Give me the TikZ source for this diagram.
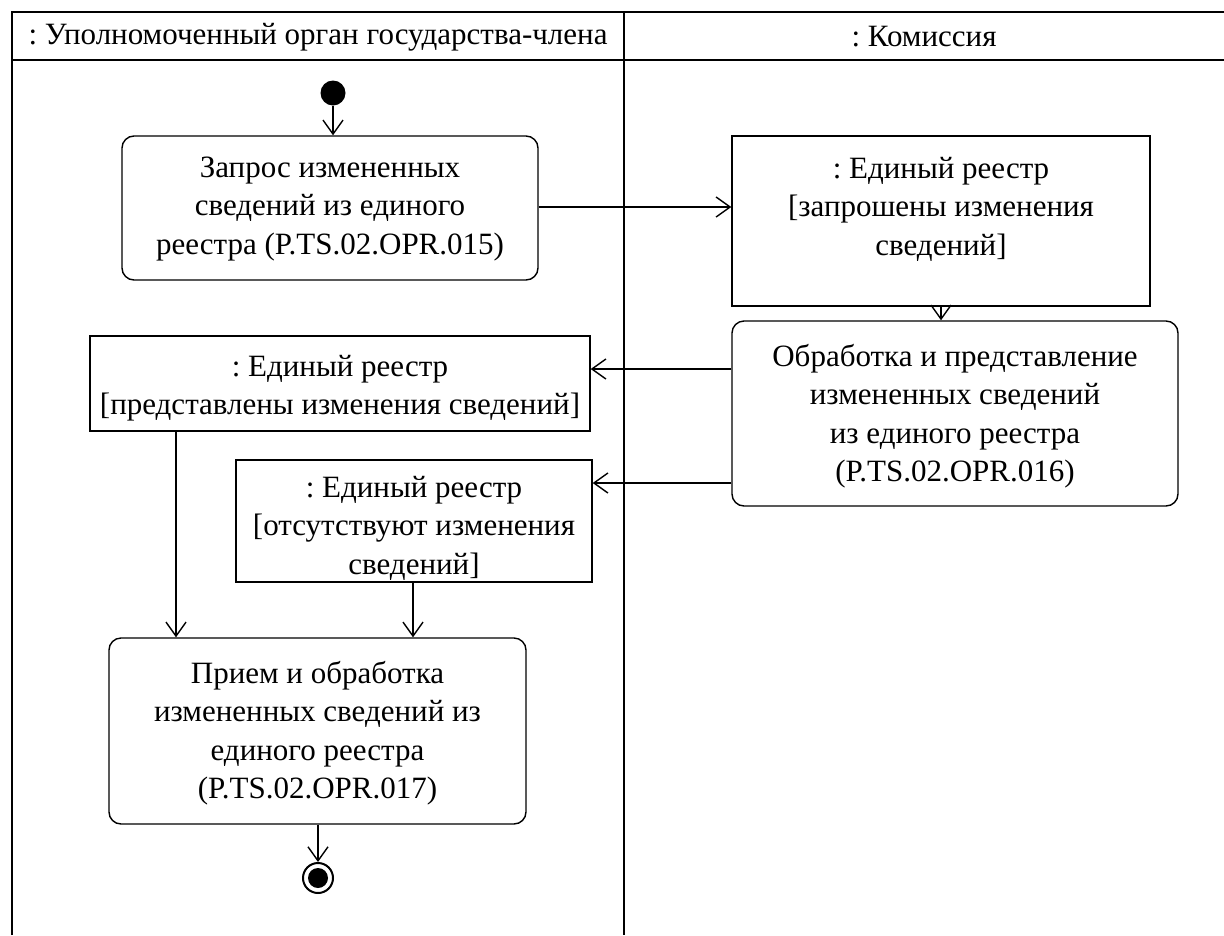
\documentclass[tikz,border=0pt]{standalone}
\usepackage{fontspec}
\setmainfont{Liberation Serif}
\usetikzlibrary{arrows.meta}
\frenchspacing
\begin{document}
\begin{tikzpicture}[x=1pt,y=-1pt,
  frame/.style={line width=2pt},
  actbox/.style={draw,line width=1.4pt,rounded corners=12pt,inner sep=0pt},
  objbox/.style={draw,line width=1.4pt,inner sep=0pt},
  txt/.style={align=center,font=\fontsize{31}{38.5}\selectfont,inner sep=0pt},
  flow/.style={line width=1.4pt,-{Straight Barb[length=14pt,width=20pt,line width=1.4pt]}}
]
\useasboundingbox (0,0) rectangle (1224,935);
% frame
\draw[frame] (12,935) -- (12,12) -- (1224,12);
\draw[frame] (12,60) -- (1224,60);
\draw[frame] (624,12) -- (624,935);
\node[txt] (h1) at (318,37) {: Уполномоченный орган государства-члена};
\node[txt] (h2) at (924,37) {: Комиссия};
% start
\node[circle,fill=black,inner sep=0pt,minimum size=25pt] (start) at (333,93) {};
% boxes
\node[actbox,minimum width=416pt,minimum height=144pt] (b1) at (330,208) {};
\node[txt] at (330,209) {Запрос измененных\\сведений из единого\\реестра (P.TS.02.OPR.015)};
\node[objbox,minimum width=418pt,minimum height=170pt] (b2) at (941,221) {};
\node[txt] at (941,209) {: Единый реестр\\{[}запрошены изменения\\сведений{]}};
\node[actbox,minimum width=446pt,minimum height=185pt] (b3) at (955,413.5) {};
\node[txt] at (955,416) {Обработка и представление\\измененных сведений\\из единого реестра\\(P.TS.02.OPR.016)};
\node[objbox,minimum width=500pt,minimum height=95pt] (b4) at (340,383.5) {};
\node[txt] at (340,388) {: Единый реестр\\{[}представлены изменения сведений{]}};
\node[objbox,minimum width=356pt,minimum height=122pt] (b5) at (414,521) {};
\node[txt] at (414,528) {: Единый реестр\\{[}отсутствуют изменения\\сведений{]}};
\node[actbox,minimum width=417pt,minimum height=186pt] (b6) at (317.5,731) {};
\node[txt] at (317.5,733) {Прием и обработка\\измененных сведений из\\единого реестра\\(P.TS.02.OPR.017)};
% end
\node[circle,draw,line width=2pt,inner sep=0pt,minimum size=30pt] (end) at (318,878) {};
\node[circle,fill=black,inner sep=0pt,minimum size=20pt] at (end) {};
% flows
\draw[flow] (start) -- (start |- b1.north);
\draw[flow] (b1.east |- 0,207) -- (b2.west |- 0,207);
\draw[flow] (b2.south) -- (b2.south |- b3.north);
\draw[flow] (b3.west |- 0,369) -- (b4.east |- 0,369);
\draw[flow] (b3.west |- 0,483) -- (b5.east |- 0,483);
\draw[flow] (b4.south -| 176,0) -- (b6.north -| 176,0);
\draw[flow] (b5.south -| 413,0) -- (b6.north -| 413,0);
\draw[flow] (b6.south -| 318,0) -- (end);
\end{tikzpicture}
\end{document}
